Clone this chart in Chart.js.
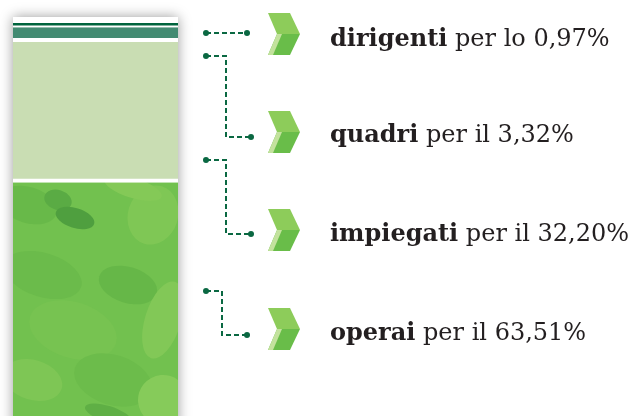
<!DOCTYPE html>
<html>
<head>
<meta charset="utf-8">
<script src="https://cdn.jsdelivr.net/npm/chart.js@4"></script>
<style>
  html, body { margin: 0; padding: 0; background: #fff; }
  .container { position: relative; width: 631px; height: 416px; overflow: hidden; }
  .label {
    position: absolute; left: 330px; white-space: nowrap;
    font-family: "DejaVu Serif", serif; font-size: 24px; line-height: 24px;
    color: #231f20;
  }
  .label b { font-weight: bold; }
</style>
</head>
<body>
<div class="container">
  <canvas id="chart"></canvas>
</div>
<script>
var categories = ["dirigenti", "quadri", "impiegati", "operai"];
var percentages = [0.97, 3.32, 32.20, 63.51];
var articles = ["lo", "il", "il", "il"];
var colors = ["#00643d", "#438b72", "#c9ddb3", "#6fc04d"];

// layout of the annotations on the right
var labelBaselines = [46, 142, 241, 340];
var connectors = [
    [[206, 33], [247, 33]],
    [[206, 56], [226, 56], [226, 137], [251, 137]],
    [[206, 160], [226, 160], [226, 234], [251, 234]],
    [[206, 291], [222, 291], [222, 335], [247, 335]]
];
var chevronY = [34, 132, 230, 329];

// mottled patches for the "operai" texture (x, y, rx, ry, colour)
var patches = [
    [15, 25, 30, 18, "#68b949"], [45, 20, 14, 10, "#5aab44"], [62, 38, 20, 10, "#4f9f3f"],
    [140, 35, 25, 30, "#7fc755"], [120, 8, 30, 10, "#84c957"], [30, 95, 40, 22, "#6bbb4b"],
    [115, 105, 30, 18, "#66b748"], [150, 140, 18, 40, "#82c857"], [60, 150, 45, 28, "#77c351"],
    [20, 200, 30, 20, "#7ec655"], [100, 200, 40, 25, "#6cbc4b"], [150, 220, 25, 25, "#86cb5a"],
    [95, 234, 24, 8, "#5faf45"]
];

var container = document.querySelector(".container");

categories.forEach(function (cat, i) {
    var div = document.createElement("div");
    div.className = "label";
    div.style.top = (labelBaselines[i] - 20.3) + "px";
    var txt = percentages[i].toFixed(2).replace(".", ",");
    div.innerHTML = "<b>" + cat + "</b> per " + articles[i] + " " + txt + "%";
    container.appendChild(div);
});

var texture = null;
function operaiFill(context) {
    var chart = context.chart;
    if (!texture) {
        var c = document.createElement("canvas");
        c.width = 165; c.height = 240;
        var t = c.getContext("2d");
        t.fillStyle = "#72c14f";
        t.fillRect(0, 0, 165, 240);
        patches.forEach(function (p) {
            t.fillStyle = p[4];
            t.beginPath();
            t.ellipse(p[0], p[1], p[2], p[3], 0.3, 0, Math.PI * 2);
            t.fill();
        });
        texture = chart.ctx.createPattern(c, "repeat");
    }
    var a = chart.chartArea;
    if (a && texture.setTransform) {
        texture.setTransform(new DOMMatrix([1, 0, 0, 1, a.left, 180]));
    }
    return texture;
}

var columnBack = {
    id: "columnBack",
    beforeDatasetsDraw: function (chart) {
        var ctx = chart.ctx, a = chart.chartArea;
        ctx.save();
        ctx.shadowColor = "rgba(0,0,0,0.4)";
        ctx.shadowBlur = 12;
        ctx.fillStyle = "#fff";
        ctx.fillRect(a.left, a.top - 6, a.right - a.left, a.bottom - a.top + 40);
        ctx.restore();
    }
};

var annotations = {
    id: "annotations",
    afterDraw: function (chart) {
        var ctx = chart.ctx;
        ctx.save();
        ctx.strokeStyle = "#0a6842";
        ctx.fillStyle = "#0a6842";
        ctx.lineWidth = 2;
        connectors.forEach(function (path) {
            ctx.setLineDash([5, 3]);
            ctx.beginPath();
            path.forEach(function (p, k) {
                if (k === 0) ctx.moveTo(p[0], p[1]); else ctx.lineTo(p[0], p[1]);
            });
            ctx.stroke();
            ctx.setLineDash([]);
            [path[0], path[path.length - 1]].forEach(function (p) {
                ctx.beginPath();
                ctx.arc(p[0], p[1], 3, 0, Math.PI * 2);
                ctx.fill();
            });
        });
        chevronY.forEach(function (cy) {
            var cx = 284;
            ctx.fillStyle = "#8dcc5a";
            ctx.beginPath();
            ctx.moveTo(cx - 16, cy - 21);
            ctx.lineTo(cx + 6, cy - 21);
            ctx.lineTo(cx + 16, cy);
            ctx.lineTo(cx - 7, cy);
            ctx.closePath();
            ctx.fill();
            ctx.fillStyle = "#69bd49";
            ctx.beginPath();
            ctx.moveTo(cx - 7, cy);
            ctx.lineTo(cx + 16, cy);
            ctx.lineTo(cx + 6, cy + 21);
            ctx.lineTo(cx - 16, cy + 21);
            ctx.closePath();
            ctx.fill();
            ctx.fillStyle = "#c3e29d";
            ctx.beginPath();
            ctx.moveTo(cx - 7, cy);
            ctx.lineTo(cx - 2, cy);
            ctx.lineTo(cx - 11, cy + 21);
            ctx.lineTo(cx - 16, cy + 21);
            ctx.closePath();
            ctx.fill();
        });
        ctx.restore();
    }
};

var datasets = categories.map(function (cat, i) {
    return {
        label: cat,
        data: [percentages[i]],
        backgroundColor: i === 3 ? operaiFill : colors[i],
        borderColor: "#fff",
        borderWidth: { top: 0, left: 0, right: 0, bottom: i === 0 ? 2 : (i === 3 ? 0 : 4) },
        borderSkipped: false,
        barPercentage: 1,
        categoryPercentage: 1
    };
});

var ctx = document.getElementById("chart").getContext("2d");
new Chart(ctx, {
    type: "bar",
    data: { labels: [""], datasets: datasets },
    options: {
        responsive: true,
        maintainAspectRatio: false,
        animation: false,
        layout: { padding: { left: 13, right: 453, top: 23, bottom: 0 } },
        plugins: { legend: { display: false }, tooltip: { enabled: false } },
        scales: {
            x: { stacked: true, display: false },
            y: { stacked: true, display: false, reverse: true, min: 0, max: 90 }
        }
    },
    plugins: [columnBack, annotations]
});
</script>
</body>
</html>
